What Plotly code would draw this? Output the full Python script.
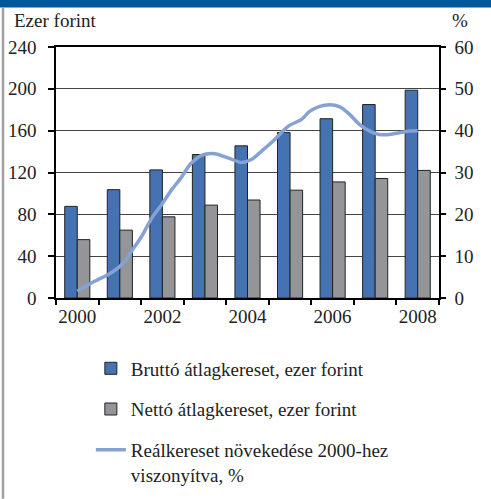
import plotly.graph_objects as go

years = [2000, 2001, 2002, 2003, 2004, 2005, 2006, 2007, 2008]
brutto = [87.6, 103.6, 122.5, 137.2, 145.5, 158.3, 171.4, 185.0, 198.7]
netto = [55.8, 64.9, 77.6, 88.8, 93.7, 103.1, 111.0, 114.3, 122.0]

real_x = [2000.0, 2000.26, 2000.49, 2000.73, 2000.96, 2001.12, 2001.27, 2001.51,
          2001.75, 2001.98, 2002.22, 2002.45, 2002.65, 2002.92, 2003.23, 2003.54,
          2003.86, 2004.09, 2004.33, 2004.64, 2004.96, 2005.27, 2005.46, 2005.70,
          2005.93, 2006.17, 2006.40, 2006.63, 2006.87, 2007.10, 2007.34, 2007.57,
          2007.80, 2008.0]
real_y = [1.6, 3.2, 4.4, 5.6, 7.2, 8.8, 11.1, 14.7,
          19.1, 22.3, 25.9, 28.9, 31.9, 34.1, 34.5, 33.5,
          32.4, 33.1, 35.1, 37.9, 41.1, 42.7, 44.6, 45.8,
          46.2, 45.7, 43.9, 41.5, 39.9, 39.1, 39.1, 39.5,
          39.9, 40.0]

label_years = [2000, 2002, 2004, 2006, 2008]
left_ticks = [0, 40, 80, 120, 160, 200, 240]
right_ticks = [0, 10, 20, 30, 40, 50, 60]

font = "Liberation Serif, DejaVu Serif, serif"
txt = dict(family=font, size=19, color="#222222")

fig = go.Figure()
fig.add_trace(go.Bar(x=years, y=brutto, name="Bruttó átlagkereset, ezer forint",
                     marker=dict(color="#4572B0", line=dict(color="#222222", width=1)),
                     legendgroup="a"))
fig.add_trace(go.Bar(x=years, y=netto, name="Nettó átlagkereset, ezer forint",
                     marker=dict(color="#939598", line=dict(color="#222222", width=1)),
                     legendgroup="b"))
fig.add_trace(go.Scatter(x=real_x, y=real_y, yaxis="y2", mode="lines",
                         name="Reálkereset növekedése 2000-hez<br>viszonyítva, %",
                         line=dict(color="#86A2D4", width=3.5, shape="spline", smoothing=0.8),
                         legendgroup="c"))
# dummy trace to carry the tick-only axis
fig.add_trace(go.Scatter(x=[years[0]], y=[0], xaxis="x2", mode="none",
                         showlegend=False, hoverinfo="skip"))

fig.update_layout(
    width=491, height=499,
    margin=dict(l=56, r=52, t=47, b=201, autoexpand=False),
    plot_bgcolor="white", paper_bgcolor="white",
    font=txt,
    barmode="group", bargap=0.41, bargroupgap=0,
    showlegend=True,
    legend=dict(x=0.091, y=-0.205, xanchor="left", yanchor="top",
                traceorder="grouped", tracegroupgap=13, valign="top",
                font=txt, itemwidth=30, bgcolor="rgba(0,0,0,0)"),
    xaxis=dict(range=[1999.5, 2008.5], tickvals=label_years, ticks="",
               showline=True, linecolor="black", linewidth=1.5, mirror=True,
               showgrid=False, zeroline=False, ticklabelstandoff=0, automargin=False),
    xaxis2=dict(range=[1999.5, 2008.5], overlaying="x", anchor="y",
                tickvals=[y + 0.5 for y in [1999] + years], ticks="outside",
                ticklen=6, tickwidth=1.5, tickcolor="black", automargin=False,
                showticklabels=False, showgrid=False, zeroline=False, side="bottom"),
    yaxis=dict(range=[0, 240], tickvals=left_ticks, ticks="outside", ticklen=6,
               tickwidth=1.5, tickcolor="black", showline=True, linecolor="black",
               linewidth=1.5, showgrid=True, gridcolor="#444444", gridwidth=1,
               zeroline=False, ticklabelstandoff=8, automargin=False),
    yaxis2=dict(range=[0, 60], tickvals=right_ticks, overlaying="y", side="right",
                ticks="outside", ticklen=5, tickwidth=1.5, tickcolor="black",
                showline=True, linecolor="black", linewidth=1.5, showgrid=False,
                zeroline=False, ticklabelstandoff=5, automargin=False),
    shapes=[
        dict(type="rect", xref="paper", yref="paper", x0=-0.2, x1=1.2,
             y0=1.157, y1=1.19, fillcolor="#00589B", line=dict(width=0), layer="above"),
        dict(type="line", xref="paper", yref="paper", x0=-0.1384, x1=-0.1384,
             y0=1.157, y1=-0.8, line=dict(color="#A0A0A0", width=2.5)),
    ],
    annotations=[
        dict(text="Ezer forint", xref="paper", yref="paper", x=-0.115, y=1.105,
             xanchor="left", yanchor="middle", showarrow=False, font=txt),
        dict(text="%", xref="paper", yref="paper", x=1.029, y=1.105,
             xanchor="left", yanchor="middle", showarrow=False, font=txt),
    ],
)

# drop the default page margin so the figure sits at the window's corner
fig.write_html("out.html", config={"displayModeBar": False},
               post_script="document.body.style.margin='0';")
